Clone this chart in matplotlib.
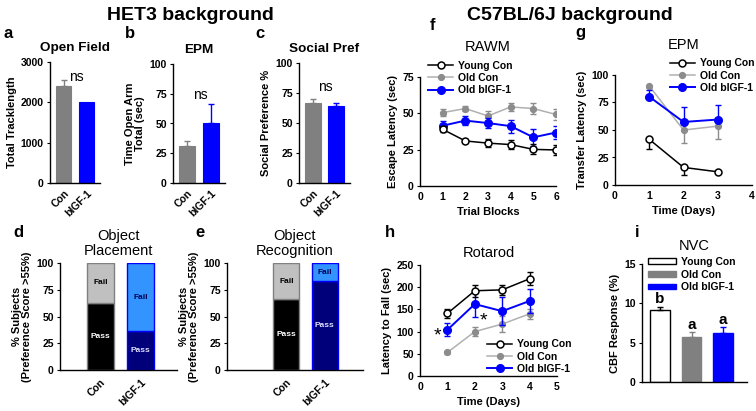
import numpy as np
import matplotlib
matplotlib.use("Agg")
import matplotlib.pyplot as plt
from matplotlib.patches import Patch

# ---- data ----
het_groups = ["Con", "bIGF-1"]
open_field = [2400, 2020]
open_field_err = [160, 0]
epm_het = [31.4, 50.0]
epm_het_err = [3.8, 16.5]
social_pref = [67, 64]
social_pref_err = [3.0, 2.5]
obj_place_pass = [63, 36]
obj_recog_pass = [66, 83]

series = ["Young Con", "Old Con", "Old bIGF-1"]
rawm_blocks = [1, 2, 3, 4, 5, 6]
rawm_young = [39.0, 31.0, 29.5, 28.5, 25.2, 24.8]
rawm_young_err = [2.0, 1.5, 3.0, 3.0, 3.5, 3.5]
rawm_old = [50.5, 53.3, 48.2, 54.4, 53.3, 49.2]
rawm_old_err = [2.5, 2.0, 3.5, 2.5, 3.5, 4.0]
rawm_igf = [41.5, 45.0, 43.3, 41.2, 33.5, 36.8]
rawm_igf_err = [3.0, 3.0, 3.5, 4.5, 6.0, 4.5]

epm_days = [1, 2, 3]
epm_young = [41.5, 16.0, 12.0]
epm_young_err = [9.0, 7.0, 1.0]
epm_old = [90.0, 50.0, 53.5]
epm_old_err = [2.0, 12.0, 12.0]
epm_igf = [80.3, 57.3, 59.5]
epm_igf_err = [6.0, 14.0, 13.5]

rot_days = [1, 2, 3, 4]
rot_young = [141, 192, 194, 219]
rot_young_err = [10, 14, 11, 15]
rot_old = [53, 100, 117, 140]
rot_old_err = [4, 11, 18, 12]
rot_igf = [104, 162, 146, 169]
rot_igf_err = [15, 28, 32, 27]

nvc = [9.1, 5.7, 6.2]
nvc_err = [0.45, 0.6, 0.75]
nvc_letters = ["b", "a", "a"]

GRAY = "#808080"
BLUE = "#0000ff"
NAVY = "#00007a"
LBLUE = "#3394ff"
LGRAY = "#c0c0c0"
OLDLINE = "#b0b0b0"
OLDMK = "#8c8c8c"

plt.rcParams['font.family'] = ['Liberation Sans', 'DejaVu Sans']
plt.rcParams['font.weight'] = 'bold'
plt.rcParams['axes.labelweight'] = 'bold'
plt.rcParams['axes.linewidth'] = 1.0
plt.rcParams['xtick.major.size'] = 2.5
plt.rcParams['ytick.major.size'] = 2.5
plt.rcParams['xtick.labelsize'] = 7.5
plt.rcParams['ytick.labelsize'] = 7.5
plt.rcParams['xtick.major.pad'] = 2
plt.rcParams['ytick.major.pad'] = 2

W, H = 756, 411
fig = plt.figure(figsize=(W / 100, H / 100), dpi=100)

LABEL_FS = 8
LEG_FS = 7.5
TITLE_FS = 10.5


def px_axes(l, t, r, b):
    ax = fig.add_axes([l / W, 1 - b / H, (r - l) / W, (b - t) / H])
    ax.spines['top'].set_visible(False)
    ax.spines['right'].set_visible(False)
    return ax


def ftext(x, y, s, **kw):
    fig.text(x / W, 1 - y / H, s, **kw)


# headers
ftext(190, 16, "HET3 background", ha='center', va='center', fontsize=14, fontweight='bold')
ftext(570, 16, "C57BL/6J background", ha='center', va='center', fontsize=14, fontweight='bold')
for lab, x, y in [("a", 8, 34), ("b", 130, 34), ("c", 260, 34), ("d", 18, 232),
                  ("e", 200, 232), ("f", 433, 25), ("g", 580, 32), ("h", 390, 232), ("i", 637, 232)]:
    ftext(x, y, lab, ha='center', va='center', fontsize=12, fontweight='bold')


def bar_pair(ax, vals, errs, ylim, yticks, ylabel, title, ns_y):
    x = np.arange(1, len(vals) + 1)
    cols = [GRAY, BLUE]
    ax.bar(x, vals, width=0.66, color=cols, edgecolor=cols, linewidth=0.8)
    for xi, v, e, c in zip(x, vals, errs, cols):
        if e > 0:
            ax.errorbar(xi, v, yerr=[[0], [e]], color=c, capsize=2.5, elinewidth=1, capthick=1)
    ax.set_xlim(0.4, 2.6)
    ax.set_ylim(*ylim)
    ax.set_yticks(yticks)
    ax.set_xticks(x)
    ax.set_xticklabels(het_groups, rotation=45, ha='right', rotation_mode='anchor')
    ax.tick_params(axis='x', length=0, pad=4)
    ax.set_ylabel(ylabel, fontsize=LABEL_FS, labelpad=3, linespacing=1.0)
    ax.set_title(title, fontsize=9.7, fontweight='bold', pad=8)
    ax.text(1.55, ns_y, "ns", ha='center', va='center', fontsize=10, fontweight='normal')


ax_a = px_axes(50, 62, 100, 183)
bar_pair(ax_a, open_field, open_field_err, (0, 3000), [0, 1000, 2000, 3000],
         "Total Tracklength", "Open Field", 2630)
ax_b = px_axes(173, 64, 225, 183)
bar_pair(ax_b, epm_het, epm_het_err, (0, 100), [0, 25, 50, 75, 100],
         "Time Open Arm\nTotal (sec)", "EPM", 74)
ax_c = px_axes(299, 63, 350, 183)
bar_pair(ax_c, social_pref, social_pref_err, (0, 100), [0, 25, 50, 75, 100],
         "Social Preference %", "Social Pref", 80)


def stacked(ax, passes, title, xlim):
    x = np.arange(1, 3)
    fails = [100 - p for p in passes]
    ax.bar(x, passes, width=0.68, color=["black", NAVY], edgecolor=[GRAY, BLUE], linewidth=1)
    ax.bar(x, fails, bottom=passes, width=0.68, color=[LGRAY, LBLUE],
           edgecolor=[GRAY, BLUE], linewidth=1)
    pass_cols = ["white", "#e0e0ff"]
    fail_cols = ["black", "#000050"]
    for xi, p, f, pc, fc in zip(x, passes, fails, pass_cols, fail_cols):
        ax.text(xi, p / 2, "Pass", ha='center', va='center', fontsize=6, color=pc)
        ax.text(xi, p + f / 2, "Fail", ha='center', va='center', fontsize=6, color=fc)
    ax.set_xlim(*xlim)
    ax.set_ylim(0, 100)
    ax.set_yticks([0, 25, 50, 75, 100])
    ax.set_xticks(x)
    ax.set_xticklabels(het_groups, rotation=45, ha='right', rotation_mode='anchor')
    ax.tick_params(axis='x', length=0, pad=5)
    ax.set_ylabel("% Subjects\n(Preference Score >55%)", fontsize=LABEL_FS, labelpad=3, linespacing=1.0)
    ax.set_title(title, fontsize=TITLE_FS, fontweight='normal', pad=6, linespacing=1.05)


ax_d = px_axes(60, 263, 177, 370)
stacked(ax_d, obj_place_pass, "Object\nPlacement", (0.0, 2.9))
ax_e = px_axes(227, 263, 363, 370)
stacked(ax_e, obj_recog_pass, "Object\nRecognition", (-0.55, 3.0))


def lines3(ax, x, ys, errs, dirs):
    styles = [dict(color="black", marker='o', mfc="white", mec="black", ms=5, lw=1.1, mew=1.1),
              dict(color=OLDLINE, marker='o', mfc=OLDMK, mec=OLDMK, ms=4.2, lw=1.1),
              dict(color=BLUE, marker='o', mfc=BLUE, mec=BLUE, ms=5.5, lw=1.4)]
    ecols = ["black", OLDMK, BLUE]
    handles = []
    for y, e, st, ec, d, lab, z in zip(ys, errs, styles, ecols, dirs, series, [5, 3, 4]):
        e = np.array(e)
        zero = np.zeros_like(e)
        yerr = {'both': [e, e], 'down': [e, zero], 'up': [zero, e]}[d]
        ax.errorbar(x, y, yerr=yerr, fmt='none', ecolor=ec, elinewidth=1, capsize=2, capthick=1, zorder=z)
        h, = ax.plot(x, y, label=lab, zorder=z + 0.5, **st)
        handles.append(h)
    return handles


def legend_at(ax, handles, x, y, loc='upper left', hl=2.4):
    ax.legend(handles=handles, loc=loc, bbox_to_anchor=(x, y), frameon=False, fontsize=LEG_FS,
              handlelength=hl, handletextpad=0.5, labelspacing=0.22, borderpad=0, borderaxespad=0)


# f RAWM
ax_f = px_axes(420, 77, 556, 186)
hf = lines3(ax_f, rawm_blocks, [rawm_young, rawm_old, rawm_igf],
            [rawm_young_err, rawm_old_err, rawm_igf_err], ['both', 'both', 'both'])
ax_f.set_xlim(0, 6)
ax_f.set_ylim(0, 75)
ax_f.set_xticks(range(0, 7))
ax_f.set_yticks([0, 25, 50, 75])
ax_f.tick_params(axis='x', length=0, pad=4)
ax_f.set_xlabel("Trial Blocks", fontsize=LABEL_FS, labelpad=4)
ax_f.set_ylabel("Escape Latency (sec)", fontsize=LABEL_FS, labelpad=3)
ax_f.set_title("RAWM", fontsize=TITLE_FS, fontweight='normal', pad=19)
legend_at(ax_f, hf, 0.06, 1.15)

# g EPM
ax_g = px_axes(615, 75, 752, 185)
hg = lines3(ax_g, epm_days, [epm_young, epm_old, epm_igf],
            [epm_young_err, epm_old_err, epm_igf_err], ['down', 'down', 'up'])
ax_g.set_xlim(0, 4)
ax_g.set_ylim(0, 100)
ax_g.set_xticks(range(0, 5))
ax_g.set_yticks([0, 25, 50, 75, 100])
ax_g.tick_params(axis='x', length=0, pad=4)
ax_g.set_xlabel("Time (Days)", fontsize=LABEL_FS, labelpad=4)
ax_g.set_ylabel("Transfer Latency (sec)", fontsize=LABEL_FS, labelpad=3)
ax_g.set_title("EPM", fontsize=TITLE_FS, fontweight='normal', pad=19)
legend_at(ax_g, hg, 0.40, 1.15)

# h Rotarod
ax_h = px_axes(420, 265, 557, 376)
hh = lines3(ax_h, rot_days, [rot_young, rot_old, rot_igf],
            [rot_young_err, rot_old_err, rot_igf_err], ['both', 'both', 'both'])
ax_h.set_xlim(0, 5)
ax_h.set_ylim(0, 250)
ax_h.set_xticks(range(0, 6))
ax_h.set_yticks([0, 50, 100, 150, 200, 250])
ax_h.tick_params(axis='x', length=0, pad=4)
ax_h.set_xlabel("Time (Days)", fontsize=LABEL_FS, labelpad=4)
ax_h.set_ylabel("Latency to Fall (sec)", fontsize=LABEL_FS, labelpad=3)
ax_h.set_title("Rotarod", fontsize=TITLE_FS, fontweight='normal', pad=6)
ax_h.text(0.65, 90, "*", ha='center', va='center', fontsize=14, fontweight='normal')
ax_h.text(2.3, 124, "*", ha='center', va='center', fontsize=14, fontweight='normal')
legend_at(ax_h, hh, 0.49, 0.33)

# i NVC
ax_i = px_axes(642, 264, 747, 382)
xi = np.arange(1, 4)
fills = ["white", GRAY, BLUE]
edges = ["black", GRAY, BLUE]
ax_i.bar(xi, nvc, width=0.63, color=fills, edgecolor=edges, linewidth=1)
for x, v, e, c, t in zip(xi, nvc, nvc_err, edges, nvc_letters):
    ax_i.errorbar(x, v, yerr=[[0], [e]], color=c, capsize=2.5, elinewidth=1, capthick=1)
    ax_i.text(x, v + e + 0.1, t, ha='center', va='bottom', fontsize=11)
ax_i.set_xlim(0.43, 3.76)
ax_i.set_ylim(0, 15)
ax_i.set_yticks([0, 5, 10, 15])
ax_i.set_xticks([])
ax_i.set_ylabel("CBF Response (%)", fontsize=LABEL_FS, labelpad=3)
ax_i.set_title("NVC", fontsize=TITLE_FS, fontweight='normal', pad=10)
ph = [Patch(facecolor=f, edgecolor=e, linewidth=1, label=s) for f, e, s in zip(fills, edges, series)]
ax_i.legend(handles=ph, loc='upper left', bbox_to_anchor=(0.06, 1.06), frameon=False, fontsize=LEG_FS,
            handlelength=2.7, handleheight=0.45, handletextpad=0.4, labelspacing=0.25,
            borderpad=0, borderaxespad=0)

fig.savefig("out.png", dpi=100)
